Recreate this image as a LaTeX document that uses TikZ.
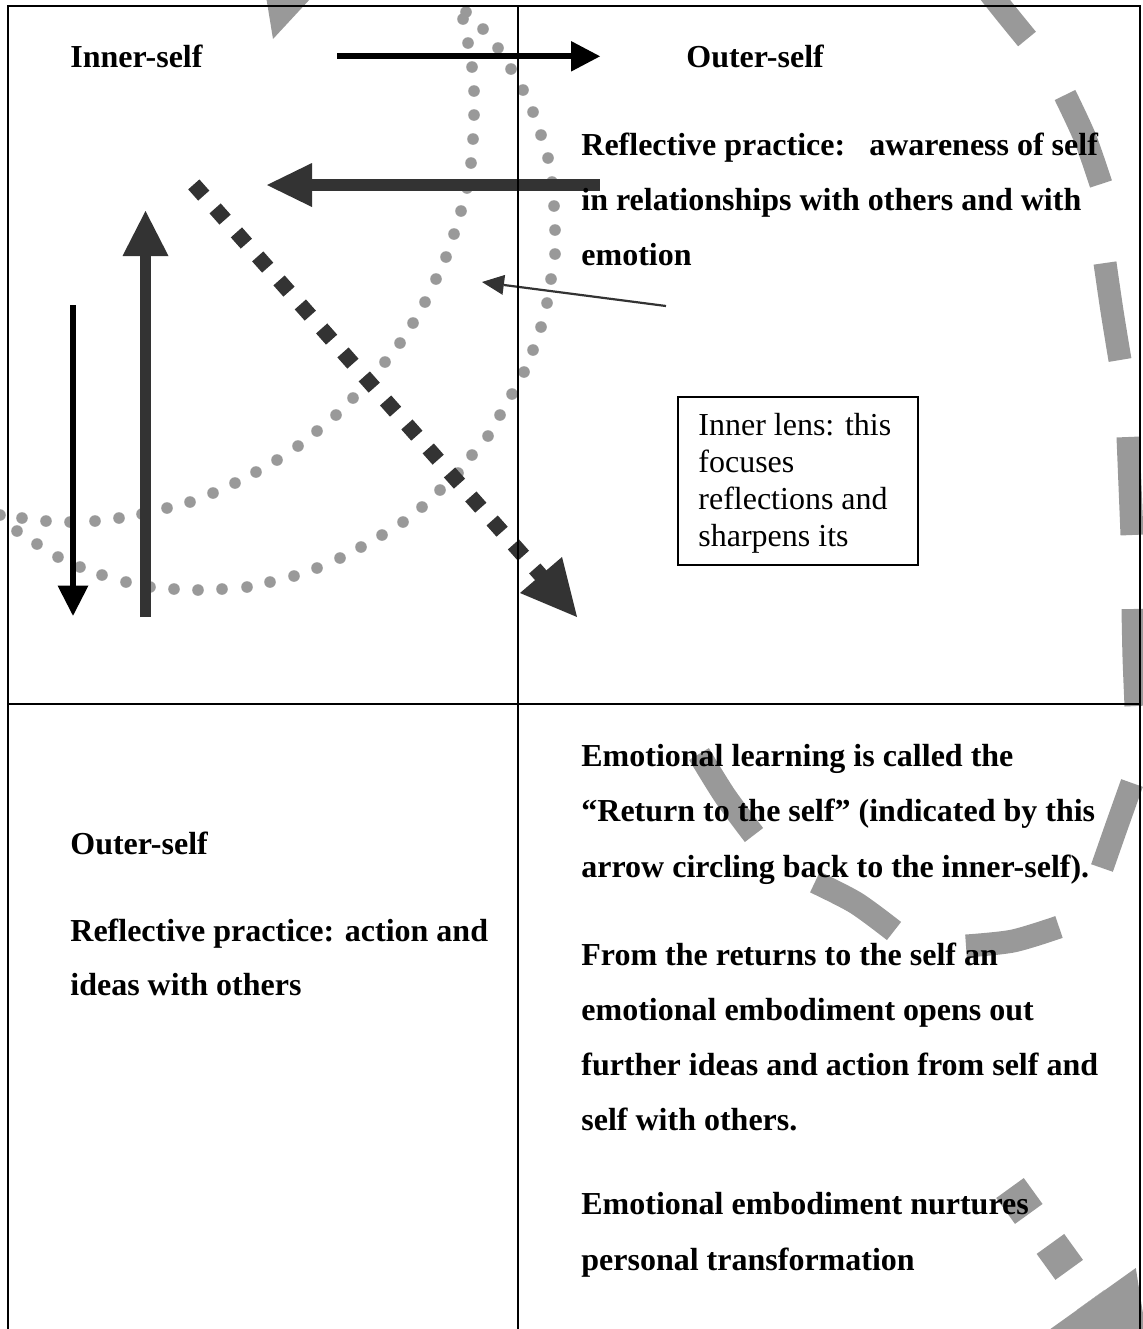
\documentclass[tikz,border=0pt]{standalone}
\usepackage{fontspec}
\setmainfont{Liberation Serif}
\definecolor{darkg}{RGB}{51,51,51}
\definecolor{lgray}{RGB}{153,153,153}
\begin{document}
\begin{tikzpicture}[x=0.5pt,y=-0.5pt,
  boldtxt/.style={anchor=base west,inner sep=0pt,font=\fontsize{16pt}{19pt}\selectfont\bfseries},
  plaintxt/.style={anchor=base west,inner sep=0pt,font=\fontsize{16pt}{19pt}\selectfont},
  frameline/.style={line width=1pt,black},
  arcdash/.style={lgray,line width=11.5pt},
  squaredots/.style={lgray,line width=17pt,dash pattern=on 16pt off 18.5pt},
  diamonddots/.style={darkg,line width=7.5pt,dash pattern=on 7.5pt off 8.55pt},
]
\useasboundingbox (0,0) rectangle (1143,1329);
\begin{scope}
\clip (0,0) rectangle (1143,1329);
% ---- big grey dashed arc ("return to the self") ----
\draw[arcdash] plot[smooth] coordinates {(699,754) (725,796) (754,835)};
\draw[arcdash] plot[smooth] coordinates {(815,882) (856,903) (894,931)};
\draw[arcdash] plot[smooth] coordinates {(966,946) (1013,941) (1059,927)};
\draw[arcdash] plot[smooth] coordinates {(1102,868) (1116,828) (1132,783)};
\draw[arcdash] plot[smooth] coordinates {(1136,706) (1134,657) (1133,609)};
\draw[arcdash] plot[smooth] coordinates {(1132,535) (1130,486) (1128,437)};
\draw[arcdash] plot[smooth] coordinates {(1120,360) (1112,311) (1105,263)};
\draw[arcdash] plot[smooth] coordinates {(1101,184) (1085,138) (1065,95)};
\draw[arcdash] plot[smooth] coordinates {(1027,39) (1005,12) (978,-22)};
\coordinate (arctip) at (273,39);
\fill[lgray] (arctip) -- (255,-71) -- (349,-43) -- cycle;
% ---- grey square-dotted arrow (bottom right) ----
\coordinate (sqs) at (1010,1188);
\coordinate (sqb) at (1091,1300);
\draw[squaredots] (sqs) -- (sqb);
\fill[lgray] (1155,1389.5) -- (1135.8,1268) -- (1046.2,1332) -- cycle;
% ---- dotted lens ----
\foreach \px/\py in {463/19,468/43,472/67,474/91,474/115,473/139,471/163,467/188,461/211,454/234,446/257,436/279,425/302,413/323,400/343,385/362,369/380,353/398,336/415,317/431,298/446,277/460,256/472,235/483,213/493,190/502,167/508,142/514,119/518,95/521,70/522,46/521,22/518,0/515}
  \fill[lgray] (\px,\py) circle[radius=2.9pt];
\foreach \px/\py in {466/12,483/29,498/48,511/69,523/90,533/112,541/135,548/158,552/182,554/206,555/230,555/254,551/279,547/303,541/327,533/350,524/372,512/394,500/415,488/436,472/455,458/473,440/490,422/507,403/522,382/535,361/547,340/558,317/568,294/576,270/582,247/587,222/589,198/590,174/589,150/587,126/582,102/575,80/567,58/557,37/544,17/531}
  \fill[lgray] (\px,\py) circle[radius=2.9pt];
% ---- dark diamond-dotted arrow ----
\coordinate (dms) at (193.8,184.4);
\coordinate (dme) at (545,580);
\draw[diamonddots] (dms) -- (dme);
\fill[darkg] (577,617) -- (520,593) -- (562,557) -- cycle;
% ---- thick dark arrow pointing left ----
\coordinate (lfs) at (600,185);
\coordinate (lfb) at (310,185);
\draw[darkg,line width=6pt] (lfs) -- (lfb);
\fill[darkg] (267,185) -- (312,163) -- (312,207) -- cycle;
% ---- thick dark arrow pointing up ----
\coordinate (ups) at (145.5,617);
\coordinate (upb) at (145.5,253);
\draw[darkg,line width=5.75pt] (ups) -- (upb);
\fill[darkg] (145.5,211) -- (122.5,256) -- (168.5,256) -- cycle;
% ---- black arrow pointing down ----
\coordinate (dns) at (73,305);
\coordinate (dnb) at (73,587);
\draw[black,line width=2.75pt] (dns) -- (dnb);
\fill[black] (73,615.7) -- (57.5,585.5) -- (88.5,585.5) -- cycle;
% ---- black arrow inner -> outer ----
\coordinate (ios) at (337,56.3);
\coordinate (iob) at (573,56.3);
\draw[black,line width=3pt] (ios) -- (iob);
\fill[black] (600,56.3) -- (571,41) -- (571,71.6) -- cycle;
% ---- thin pointer arrow ----
\coordinate (ths) at (666,306);
\coordinate (thb) at (504,285);
\draw[darkg,line width=1.1pt] (ths) -- (thb);
\fill[darkg] (482,282) -- (505.1,274.9) -- (502.5,294.8) -- cycle;
% ---- frame ----
\draw[frameline] (7.5,1340) -- (7.5,6) -- (1139.5,6) -- (1139.5,1340);
\draw[frameline] (517.7,6) -- (517.7,1340);
\draw[frameline] (7.5,704) -- (1139.5,704);
\end{scope}
% ---- lens box ----
\node (lensbox) [draw,line width=1pt,anchor=north west,inner sep=0pt,minimum width=120pt,minimum height=84pt] at (677,396) {};
\node[plaintxt] (b1) at (698,435) {Inner lens: this};
\node[plaintxt] (b2) at (698,472) {focuses};
\node[plaintxt] (b3) at (698,509) {reflections and};
\node[plaintxt] (b4) at (698,546) {sharpens its};
% ---- texts ----
\node[boldtxt] (t1) at (70,67.5) {Inner-self};
\node[boldtxt] (t2) at (686,67.5) {Outer-self};
\node[boldtxt] (t3) at (581,155) {Reflective practice:\ \ \ awareness of self};
\node[boldtxt] (t4) at (581,210) {in relationships with others and with};
\node[boldtxt] (t5) at (581,265) {emotion};
\node[boldtxt] (t6) at (70,854) {Outer-self};
\node[boldtxt] (t7) at (70,941) {Reflective practice: action and};
\node[boldtxt] (t8) at (70,995) {ideas with others};
\node[boldtxt] (r1) at (581,766) {Emotional learning is called the};
\node[boldtxt] (r2) at (581,821) {“Return to the self” (indicated by this};
\node[boldtxt] (r3) at (581,877) {arrow circling back to the inner-self).};
\node[boldtxt] (r4) at (581,965) {From the returns to the self an};
\node[boldtxt] (r5) at (581,1020) {emotional embodiment opens out};
\node[boldtxt] (r6) at (581,1075) {further ideas and action from self and};
\node[boldtxt] (r7) at (581,1130) {self with others.};
\node[boldtxt] (r8) at (581,1214) {Emotional embodiment nurtures};
\node[boldtxt] (r9) at (581,1270) {personal transformation};
\end{tikzpicture}
\end{document}
